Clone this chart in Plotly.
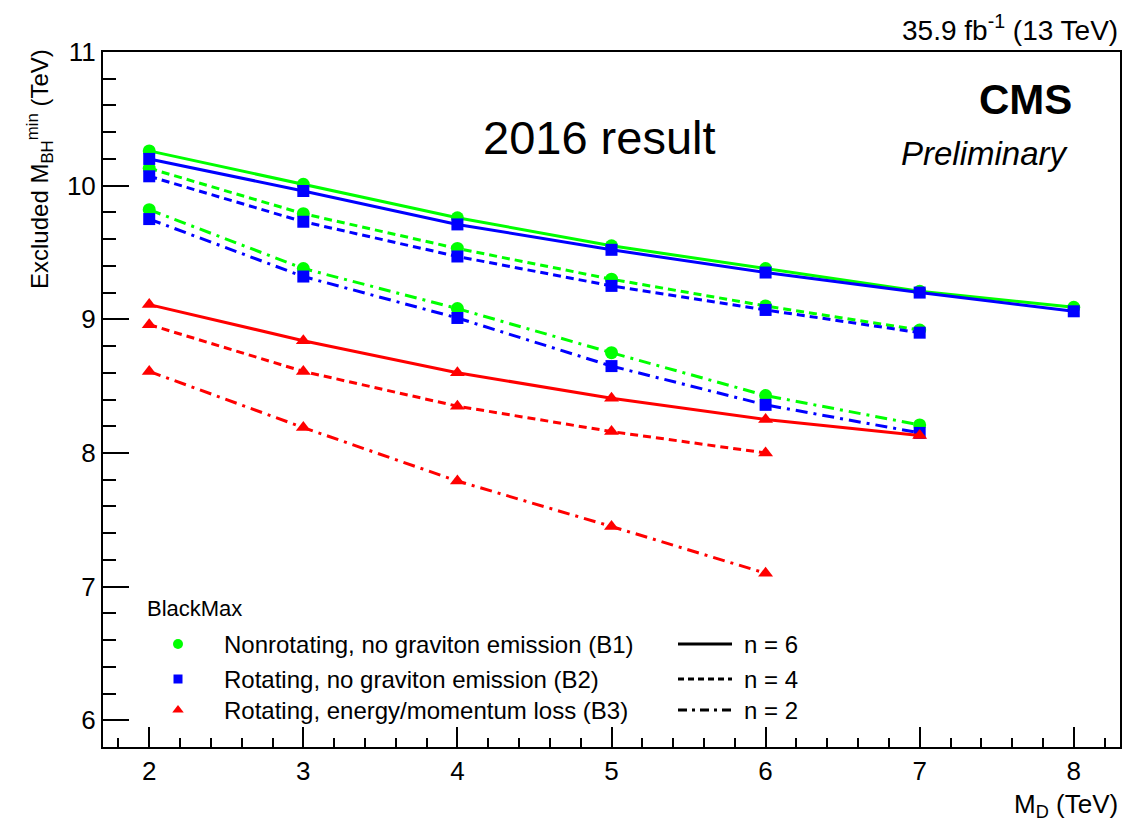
import plotly.graph_objects as go

# Quantum black hole limits (BlackMax), excluded minimum mass vs. M_D
md = [2, 3, 4, 5, 6, 7, 8]

b1_n6 = [10.26, 10.01, 9.76, 9.55, 9.38, 9.21, 9.09]
b1_n4 = [10.13, 9.79, 9.53, 9.30, 9.10, 8.92]
b1_n2 = [9.82, 9.38, 9.08, 8.75, 8.43, 8.21]

b2_n6 = [10.20, 9.96, 9.71, 9.52, 9.35, 9.20, 9.06]
b2_n4 = [10.07, 9.73, 9.47, 9.25, 9.07, 8.90]
b2_n2 = [9.75, 9.32, 9.01, 8.65, 8.36, 8.15]

b3_n6 = [9.11, 8.84, 8.60, 8.41, 8.25, 8.13]
b3_n4 = [8.96, 8.61, 8.35, 8.16, 8.00]
b3_n2 = [8.61, 8.19, 7.79, 7.45, 7.10]

model_names = [
    "Nonrotating, no graviton emission (B1)",
    "Rotating, no graviton emission (B2)",
    "Rotating, energy/momentum loss (B3)",
]
n_labels = ["n = 6", "n = 4", "n = 2"]

FONT = "Liberation Sans, Arial, Helvetica, sans-serif"
GREEN, BLUE, RED = "#00ff00", "#0000ff", "#ff0000"
DASHES = ["solid", "8px,5px", "12px,6px,3px,6px"]
LEGEND_DASHES = ["solid", "6px,4px", "9px,5px,3px,5px"]

models = [
    (GREEN, "circle", 13, [b1_n6, b1_n4, b1_n2]),
    (BLUE, "square", 12, [b2_n6, b2_n4, b2_n2]),
    (RED, "triangle-up", 13, [b3_n6, b3_n4, b3_n2]),
]

fig = go.Figure()

for color, symbol, msize, series in models:
    for vals, dash in zip(series, DASHES):
        fig.add_trace(go.Scatter(
            x=md[:len(vals)], y=vals, mode="lines+markers",
            line=dict(color=color, width=3, dash=dash),
            marker=dict(color=color, symbol=symbol, size=msize),
            showlegend=False, hoverinfo="skip",
        ))

# Hand-built two-column legend on an overlay axis spanning the frame (0..1)
W, H, L, B = 1017.0, 695.0, 103.0, 747.0


def fx(px):
    return (px - L) / W


def fy(py):
    return (B - py) / H


row_y = [644, 679, 710]
for (color, symbol, msize, _), ry in zip(models, row_y):
    fig.add_trace(go.Scatter(
        x=[fx(178)], y=[fy(ry)], mode="markers",
        marker=dict(color=color, symbol=symbol, size=msize - 3),
        xaxis="x2", yaxis="y2", showlegend=False, hoverinfo="skip",
    ))
for dash, ry in zip(LEGEND_DASHES, row_y):
    fig.add_trace(go.Scatter(
        x=[fx(678), fx(732)], y=[fy(ry), fy(ry)], mode="lines",
        line=dict(color="black", width=3, dash=dash),
        xaxis="x2", yaxis="y2", showlegend=False, hoverinfo="skip",
    ))


def label(x, y, text, size, xanchor="left", **kw):
    return dict(x=x, y=y, xref="paper", yref="paper", text=text, showarrow=False,
                xanchor=xanchor, yanchor="middle",
                font=dict(family=FONT, size=size, color="black"), **kw)


annotations = [label(fx(145), fy(608), "BlackMax", 22)]
for name, ry in zip(model_names, row_y):
    annotations.append(label(fx(222), fy(ry), name, 24))
for lab, ry in zip(n_labels, row_y):
    annotations.append(label(fx(742), fy(ry), lab, 24))

# Headers and axis titles
annotations += [
    label(1.0, fy(28), "35.9 fb<sup>-1</sup> (13 TeV)", 28, xanchor="right"),
    label(fx(1074), fy(100), "<b>CMS</b>", 42, xanchor="right"),
    label(fx(1071), fy(153), "<i>Preliminary</i>", 33, xanchor="right"),
    label(fx(599), fy(137), "2016 result", 47, xanchor="center"),
    label(1.0, fy(805), "M<sub>D</sub> (TeV)", 26, xanchor="right"),
    label(fx(40), fy(169), "Excluded M<sub>BH</sub><sup>min</sup> (TeV)", 24,
          xanchor="center", textangle=-90),
]

axis_common = dict(
    showline=True, linecolor="black", linewidth=2, mirror=True,
    ticks="inside", tickcolor="black", tickwidth=2,
    showgrid=False, zeroline=False,
    tickfont=dict(family=FONT, size=26, color="black"),
)

fig.update_layout(
    width=1139, height=824,
    margin=dict(l=103, r=19, t=52, b=77),
    paper_bgcolor="white", plot_bgcolor="white",
    showlegend=False,
    annotations=annotations,
    xaxis=dict(range=[1.7, 8.3], tickmode="array", tickvals=md, ticklen=20,
               minor=dict(dtick=0.2, ticklen=9, ticks="inside", tickcolor="black", tickwidth=2),
               **axis_common),
    yaxis=dict(range=[5.8, 11], tickmode="linear", tick0=6, dtick=1, ticklen=26,
               minor=dict(dtick=0.2, ticklen=13, ticks="inside", tickcolor="black", tickwidth=2),
               **axis_common),
    xaxis2=dict(overlaying="x", range=[0, 1], visible=False, fixedrange=True),
    yaxis2=dict(overlaying="y", range=[0, 1], visible=False, fixedrange=True),
)

fig.write_html("out.html")
